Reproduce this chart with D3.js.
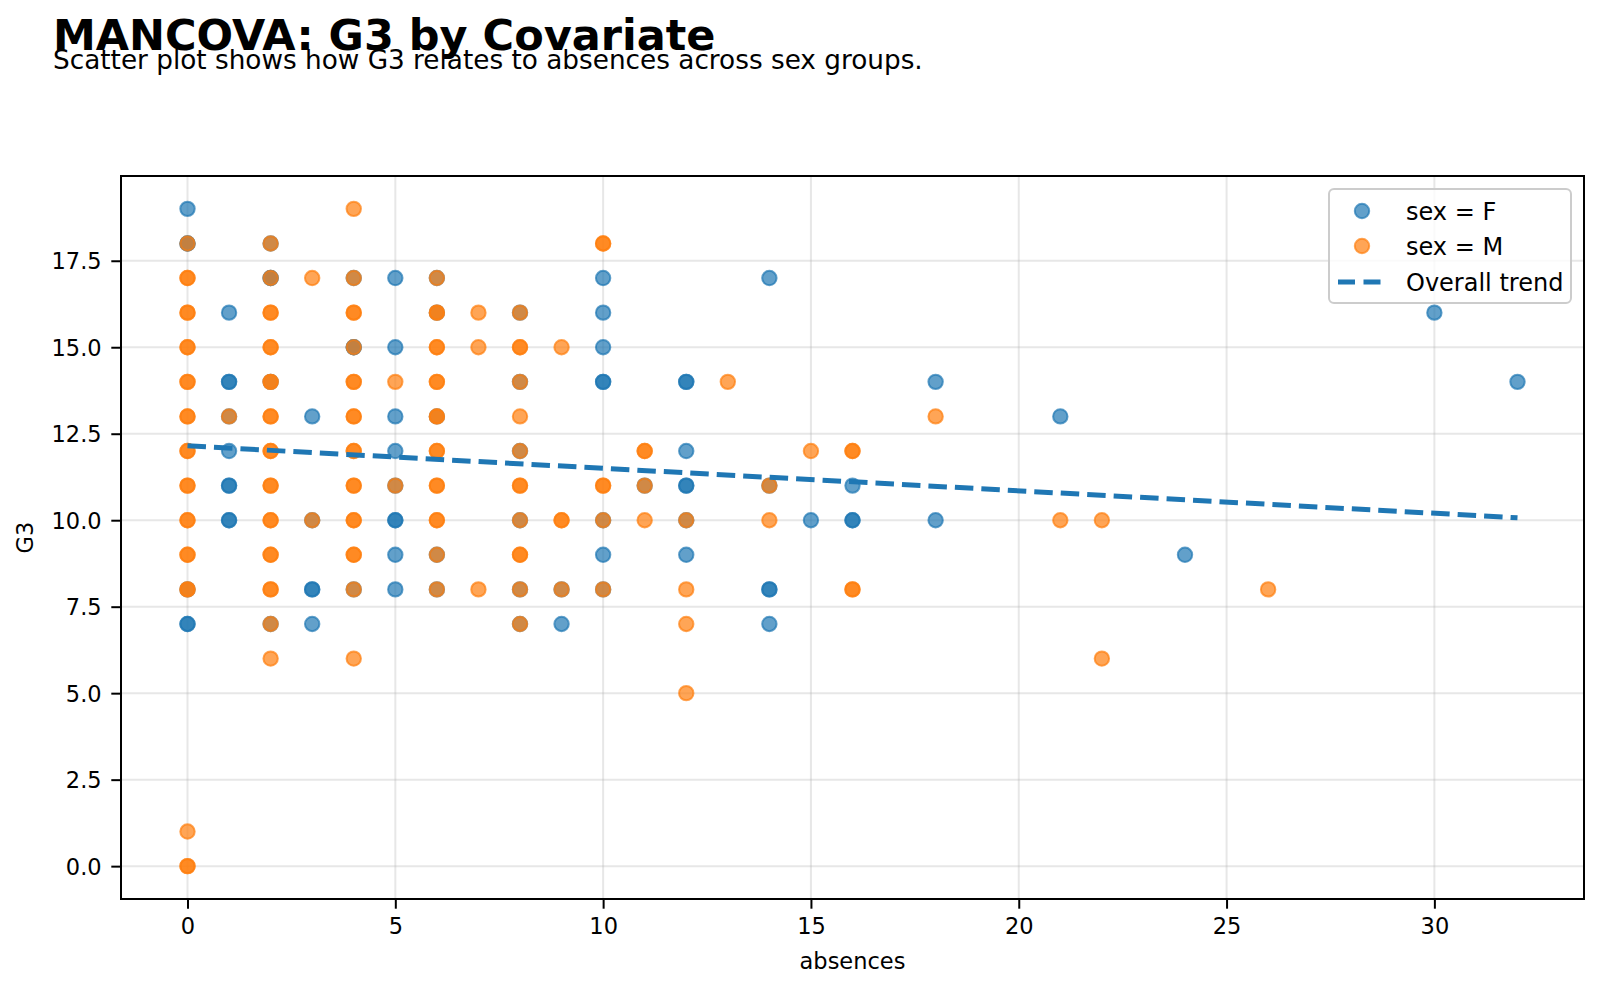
<!DOCTYPE html>
<html>
<head>
<meta charset="utf-8">
<script src="https://cdn.jsdelivr.net/npm/d3@7"></script>
<style>
  body { margin: 0; background: #fff; }
  svg { display: block; font-family: "DejaVu Sans", sans-serif; }
</style>
</head>
<body>
<script>
// [absences, G3] pairs (repeats = stacked points)
const femalePoints = [
    [0,19],[0,18],[0,18],[0,8],[0,7],[0,7],
    [1,16],[1,14],[1,14],[1,13],[1,12],[1,11],[1,11],[1,10],[1,10],
    [2,18],[2,17],[2,17],[2,14],[2,7],
    [3,13],[3,10],[3,8],[3,8],[3,7],
    [4,17],[4,15],[4,15],[4,8],
    [5,17],[5,15],[5,13],[5,12],[5,11],[5,10],[5,10],[5,9],[5,8],
    [6,17],[6,16],[6,13],[6,9],[6,8],
    [8,16],[8,14],[8,12],[8,10],[8,8],[8,7],
    [9,8],[9,7],
    [10,17],[10,16],[10,15],[10,14],[10,14],[10,10],[10,9],[10,8],
    [11,11],
    [12,14],[12,14],[12,12],[12,11],[12,11],[12,10],[12,9],
    [14,17],[14,11],[14,8],[14,8],[14,7],
    [15,10],
    [16,11],[16,10],[16,10],
    [18,14],[18,10],
    [21,13],
    [24,9],
    [30,16],
    [32,14]
];

const malePoints = [
    [0,18],[0,17],[0,17],[0,16],[0,16],[0,15],[0,15],[0,14],[0,14],[0,13],[0,13],
    [0,12],[0,12],[0,11],[0,11],[0,10],[0,10],[0,9],[0,9],[0,8],[0,8],[0,1],[0,0],[0,0],
    [1,13],
    [2,18],[2,17],[2,16],[2,16],[2,15],[2,15],[2,14],[2,14],[2,13],[2,13],[2,12],[2,12],
    [2,11],[2,11],[2,10],[2,10],[2,9],[2,9],[2,8],[2,8],[2,7],[2,6],
    [3,17],[3,10],
    [4,19],[4,17],[4,16],[4,16],[4,15],[4,14],[4,14],[4,13],[4,13],[4,12],[4,12],
    [4,11],[4,11],[4,10],[4,10],[4,9],[4,9],[4,8],[4,6],
    [5,14],[5,11],
    [6,17],[6,16],[6,16],[6,15],[6,15],[6,14],[6,14],[6,13],[6,13],[6,12],[6,12],
    [6,11],[6,11],[6,10],[6,10],[6,9],[6,8],
    [7,16],[7,15],[7,8],
    [8,16],[8,15],[8,15],[8,14],[8,13],[8,12],[8,11],[8,11],[8,10],[8,9],[8,9],[8,8],[8,7],
    [9,15],[9,10],[9,10],[9,8],
    [10,18],[10,18],[10,11],[10,11],[10,10],[10,8],
    [11,12],[11,12],[11,11],[11,10],
    [12,10],[12,8],[12,7],[12,5],
    [13,14],
    [14,11],[14,10],
    [15,12],
    [16,12],[16,12],[16,8],[16,8],
    [18,13],
    [21,10],
    [22,10],[22,6],
    [26,8]
];

// regression line end points
const trendAbsences = [0, 32];
const trendG3 = [12.15, 10.07];

const xTickValues = [0, 5, 10, 15, 20, 25, 30];
const yTickValues = [0, 2.5, 5, 7.5, 10, 12.5, 15, 17.5];
const legendLabels = ["sex = F", "sex = M", "Overall trend"];

const w = 1600;
const h = 991;
const plot = {left: 121, right: 1584, top: 176, bottom: 899};
const blue = "#1f77b4";
const orange = "#ff7f0e";
const pointR = 7.2;

const svg = d3.select("body")
    .append("svg")
    .attr("width", w)
    .attr("height", h);

// title + subtitle (they touch in the original too)
svg.append("text")
    .attr("x", 53)
    .attr("y", 50)
    .attr("font-size", 43)
    .attr("font-weight", "bold")
    .text("MANCOVA: G3 by Covariate");

svg.append("text")
    .attr("x", 53)
    .attr("y", 69)
    .attr("font-size", 26.3)
    .text("Scatter plot shows how G3 relates to absences across sex groups.");

// scales, with matplotlib style 5% margins
const xScale = d3.scaleLinear()
    .domain([-1.6, 33.6])
    .range([plot.left, plot.right]);

const yScale = d3.scaleLinear()
    .domain([-0.95, 19.95])
    .range([plot.bottom, plot.top]);

// grid
const grid = svg.append("g").attr("class", "grid");
grid.selectAll("line.gx")
    .data(xTickValues)
    .join("line")
    .attr("x1", d => xScale(d))
    .attr("x2", d => xScale(d))
    .attr("y1", plot.top)
    .attr("y2", plot.bottom)
    .attr("stroke", "#b0b0b0")
    .attr("stroke-opacity", 0.3)
    .attr("stroke-width", 2);

grid.selectAll("line.gy")
    .data(yTickValues)
    .join("line")
    .attr("x1", plot.left)
    .attr("x2", plot.right)
    .attr("y1", d => yScale(d))
    .attr("y2", d => yScale(d))
    .attr("stroke", "#b0b0b0")
    .attr("stroke-opacity", 0.3)
    .attr("stroke-width", 2);

// points: females first, males on top
function drawPoints(data, color) {
    svg.append("g")
        .selectAll("circle")
        .data(data)
        .join("circle")
        .attr("cx", d => xScale(d[0]))
        .attr("cy", d => yScale(d[1]))
        .attr("r", pointR)
        .attr("fill", color)
        .attr("fill-opacity", 0.7)
        .attr("stroke", color)
        .attr("stroke-opacity", 0.7)
        .attr("stroke-width", 2);
}
drawPoints(femalePoints, blue);
drawPoints(malePoints, orange);

// trend line
const trendLine = d3.line()
    .x(d => xScale(d[0]))
    .y(d => yScale(d[1]));

svg.append("path")
    .datum(trendAbsences.map((a, i) => [a, trendG3[i]]))
    .attr("d", trendLine)
    .attr("fill", "none")
    .attr("stroke", blue)
    .attr("stroke-width", 5)
    .attr("stroke-dasharray", "18.5,8");

// axes
const xAxis = d3.axisBottom(xScale)
    .tickValues(xTickValues)
    .tickFormat(d3.format("d"))
    .tickSize(9.7)
    .tickSizeOuter(0)
    .tickPadding(9.7);

const yAxis = d3.axisLeft(yScale)
    .tickValues(yTickValues)
    .tickFormat(d3.format(".1f"))
    .tickSize(9.7)
    .tickSizeOuter(0)
    .tickPadding(9.7);

const gx = svg.append("g")
    .attr("transform", "translate(0," + plot.bottom + ")")
    .call(xAxis);

const gy = svg.append("g")
    .attr("transform", "translate(" + plot.left + ",0)")
    .call(yAxis);

[gx, gy].forEach(g => {
    g.select(".domain").remove();
    g.selectAll(".tick line").attr("stroke", "#000").attr("stroke-width", 2);
    g.selectAll(".tick text")
        .attr("fill", "#000")
        .attr("font-size", 22.5)
        .attr("font-family", "DejaVu Sans, sans-serif");
});
gy.selectAll(".tick text").attr("dy", "0.36em");

// spines
svg.append("rect")
    .attr("x", plot.left)
    .attr("y", plot.top)
    .attr("width", plot.right - plot.left)
    .attr("height", plot.bottom - plot.top)
    .attr("fill", "none")
    .attr("stroke", "#000")
    .attr("stroke-width", 2);

// axis labels
svg.append("text")
    .attr("x", (plot.left + plot.right) / 2)
    .attr("y", 969)
    .attr("text-anchor", "middle")
    .attr("font-size", 22.5)
    .text("absences");

svg.append("text")
    .attr("transform", "translate(33," + (plot.top + plot.bottom) / 2 + ") rotate(-90)")
    .attr("text-anchor", "middle")
    .attr("font-size", 22.5)
    .text("G3");

// legend
const legend = svg.append("g").attr("transform", "translate(1329,189)");

legend.append("rect")
    .attr("width", 242)
    .attr("height", 114)
    .attr("rx", 5)
    .attr("fill", "#fff")
    .attr("fill-opacity", 0.8)
    .attr("stroke", "#cccccc")
    .attr("stroke-width", 2);

const rowY = [22, 57, 93];
[blue, orange].forEach((c, i) => {
    legend.append("circle")
        .attr("cx", 33)
        .attr("cy", rowY[i])
        .attr("r", pointR)
        .attr("fill", c)
        .attr("fill-opacity", 0.7)
        .attr("stroke", c)
        .attr("stroke-opacity", 0.7)
        .attr("stroke-width", 2);
});

legend.append("line")
    .attr("x1", 9)
    .attr("x2", 52)
    .attr("y1", rowY[2])
    .attr("y2", rowY[2])
    .attr("stroke", blue)
    .attr("stroke-width", 5)
    .attr("stroke-dasharray", "17,8.5");

legend.selectAll("text.lbl")
    .data(legendLabels)
    .join("text")
    .attr("x", 77)
    .attr("y", (d, i) => rowY[i])
    .attr("dy", "0.36em")
    .attr("font-size", 24)
    .text(d => d);
</script>
</body>
</html>
